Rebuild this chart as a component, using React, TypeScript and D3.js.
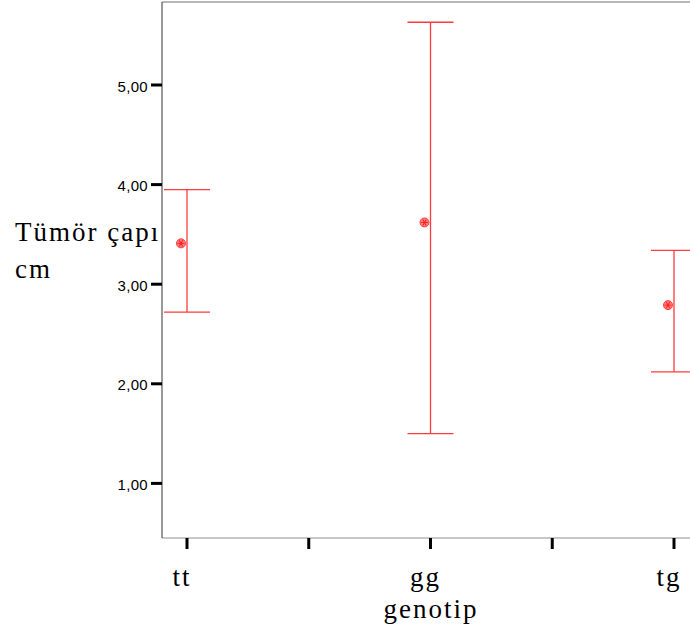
import React from "react";
import * as d3 from "d3";

// genotype groups and the mean with its 95% CI of tumour size (cm)
const genotypes = ["tt", "gg", "tg"];
const means = [3.41, 3.62, 2.79];
const lowers = [2.72, 1.5, 2.12];
const uppers = [3.95, 5.63, 3.34];
const yTicks = [1, 2, 3, 4, 5];

const W = 690;
const H = 634;
const SERIF = "'Liberation Serif', 'Times New Roman', serif";
const SANS = "'Liberation Sans', Arial, sans-serif";
const RED = "#ff3b3b";

const left = 162, top = 2, bottom = 538, right = 720;

const y = d3.scaleLinear().domain([0, 5]).range([583, 85]);
const x = d3.scalePoint<string>().domain(genotypes).range([187, 674]);
const fmt = (d: number) => d3.format(".2f")(d).replace(".", ",");

export default function App() {
    const step = x.step();
    const majorTicks = genotypes.map(g => x(g) as number);
    const minorTicks = genotypes.slice(1).map(g => (x(g) as number) - step / 2);

    return (
        <svg width={W} height={H} style={{ position: "absolute", left: 0, top: 0, background: "#fff" }}>
            {/* frame */}
            <line x1={left} x2={right} y1={top} y2={top} stroke="#a0a0a0" strokeWidth={1.5} />
            <line x1={left} x2={right} y1={bottom} y2={bottom} stroke="#909090" strokeWidth={1.2} />
            <line x1={left} x2={left} y1={top} y2={bottom} stroke="#555" strokeWidth={1.2} />

            {/* y axis */}
            {yTicks.map(d => (
                <g key={d}>
                    <line x1={left - 11} x2={left} y1={y(d)} y2={y(d)} stroke="#000" strokeWidth={3} />
                    <text x={left - 14} y={y(d) + 6.5} textAnchor="end" fontFamily={SANS} fontSize={15}
                        letterSpacing={0.3}>{fmt(d)}</text>
                </g>
            ))}
            <text fontFamily={SERIF} fontSize={27} letterSpacing={2}>
                <tspan x={15} y={241}>Tümör çapı</tspan>
                <tspan x={15} y={278}>cm</tspan>
            </text>

            {/* x axis */}
            {[...majorTicks, ...minorTicks].map(d => (
                <line key={d} x1={d} x2={d} y1={bottom} y2={bottom + 11} stroke="#000" strokeWidth={3} />
            ))}
            {genotypes.map(g => (
                <text key={g} x={(x(g) as number) - 5} y={586} textAnchor="middle"
                    fontFamily={SERIF} fontSize={27} letterSpacing={2}>{g}</text>
            ))}
            <text x={431} y={618} textAnchor="middle" fontFamily={SERIF} fontSize={27} letterSpacing={2}>genotip</text>

            {/* error bars with mean markers */}
            {genotypes.map((g, i) => {
                const cx = x(g) as number;
                return (
                    <g key={g}>
                        <line x1={cx} x2={cx} y1={y(uppers[i])} y2={y(lowers[i])} stroke={RED} strokeWidth={1.3} />
                        <line x1={cx - 23} x2={cx + 23} y1={y(uppers[i])} y2={y(uppers[i])} stroke={RED} strokeWidth={1.3} />
                        <line x1={cx - 23} x2={cx + 23} y1={y(lowers[i])} y2={y(lowers[i])} stroke={RED} strokeWidth={1.3} />
                        <g transform={`translate(${cx - 6},${y(means[i])})`}>
                            <circle r={4.5} fill="#ff8080" stroke={RED} strokeWidth={1} />
                            {[0, 60, 120].map(a => (
                                <line key={a} x1={-3.5} x2={3.5} y1={0} y2={0} transform={`rotate(${a})`}
                                    stroke="#ff1f1f" strokeWidth={1} />
                            ))}
                        </g>
                    </g>
                );
            })}
        </svg>
    );
}
